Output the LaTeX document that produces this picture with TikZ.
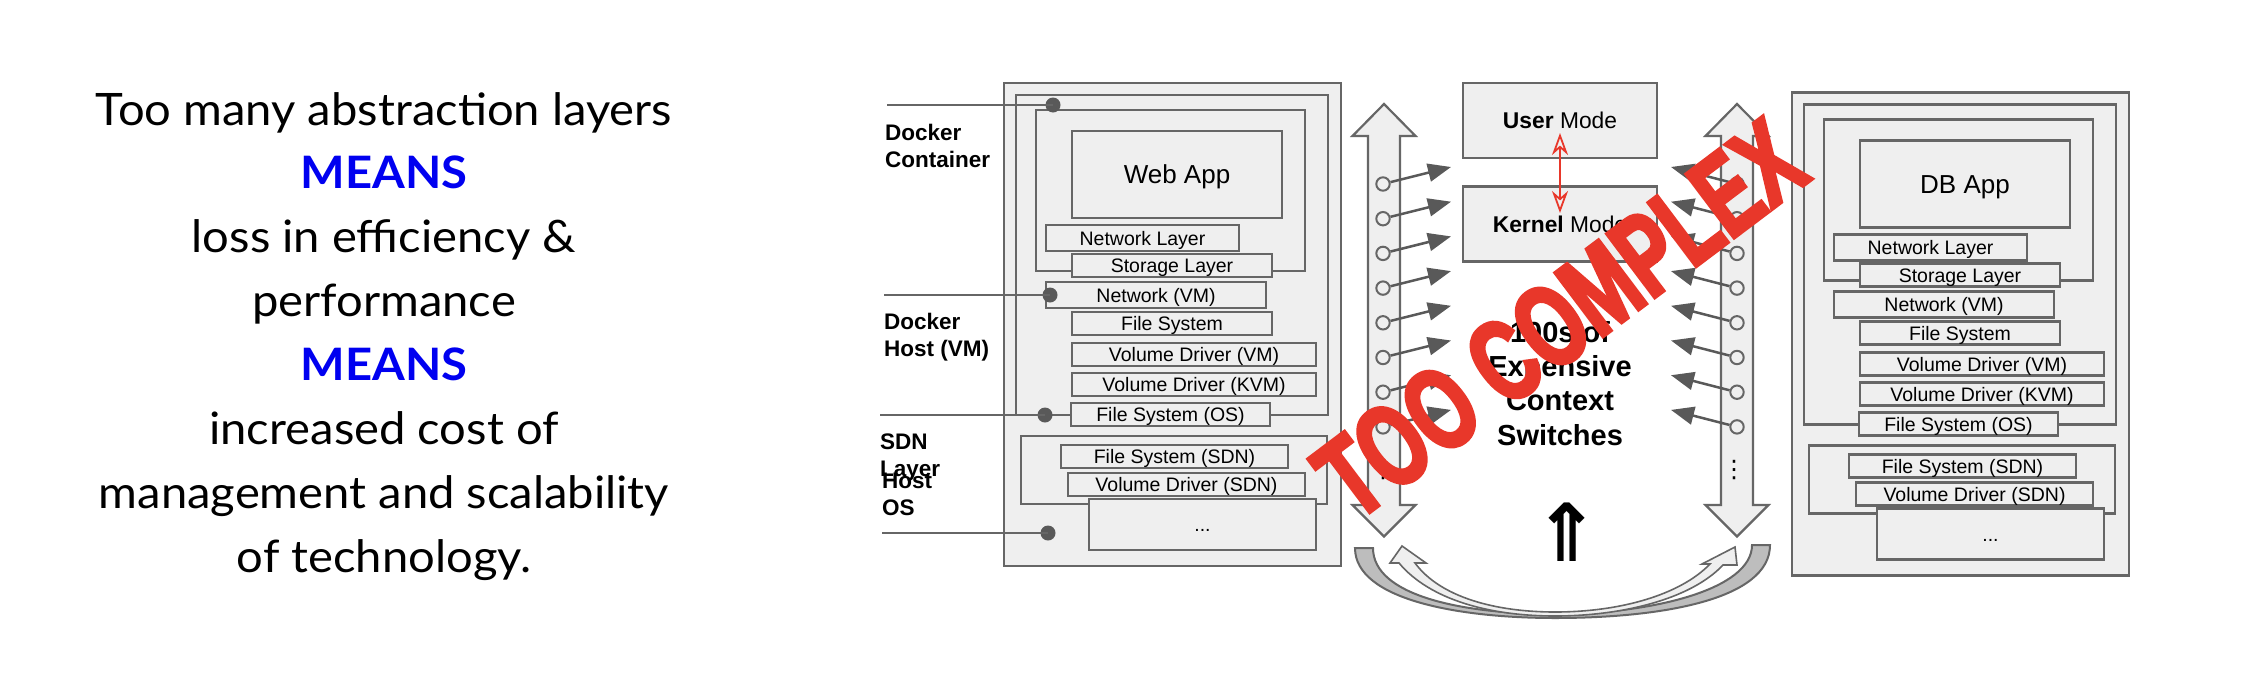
\documentclass[tikz,border=0pt]{standalone}
\usepackage{fontspec}
\setmainfont{Liberation Sans}
\newfontfamily\leadfont{Lato}[FakeStretch=1.055]
\newfontfamily\stampfont{Liberation Sans Bold}[FakeStretch=0.67,FakeBold=3]
\newfontfamily\symfont{DejaVu Sans}
\usetikzlibrary{arrows.meta}

\definecolor{linegray}{HTML}{666666}
\definecolor{panelfill}{HTML}{EFEFEF}
\definecolor{arrowgray}{HTML}{595959}
\definecolor{crescent}{HTML}{BDBDBD}
\definecolor{stampred}{HTML}{E8372A}
\definecolor{meansblue}{HTML}{0000F0}

% one host stack: outer boxes first, inner layers on top
\newcommand\hoststack[1]{%
    \node[layer, minimum width=337, minimum height=483] (host)  at (1172.5,324.5) {};
    \node[layer, minimum width=312, minimum height=320] (vm)    at (1172,255) {};
    \node[layer, minimum width=269, minimum height=161] (ctr)   at (1170.5,190.5) {};
    \node[layer, appfont, minimum width=210, minimum height=87] (app) at (1177,174.5) {#1};
    \node[layer, minimum width=193, minimum height=26] (netl)  at (1142.5,238) {Network Layer};
    \node[layer, minimum width=200, minimum height=23] (stl)   at (1172,265.5) {Storage Layer};
    \node[layer, minimum width=220, minimum height=26] (netvm) at (1156,295) {Network (VM)};
    \node[layer, minimum width=200, minimum height=23] (fs)    at (1172,323.5) {File System};
    \node[layer, minimum width=244, minimum height=23] (vdvm)  at (1194,354.5) {Volume Driver (VM)};
    \node[layer, minimum width=244, minimum height=23] (vdkvm) at (1194,384.5) {Volume Driver (KVM)};
    \node[layer, minimum width=199, minimum height=23] (fsos)  at (1170.5,414.5) {File System (OS)};
    \node[layer, minimum width=306, minimum height=68] (sdn)   at (1174,470) {};
    \node[layer, minimum width=227, minimum height=23] (fssdn) at (1174.5,456.5) {File System (SDN)};
    \node[layer, minimum width=237, minimum height=23] (vdsdn) at (1186.5,484.5) {Volume Driver (SDN)};
    \node[layer, minimum width=227, minimum height=51] (more)  at (1202.5,524.5) {...};
}

\begin{document}
\begin{tikzpicture}[
    x=1pt, y=-1pt,
    layer/.style={
        draw=linegray,
        fill=panelfill,
        line width=2.2pt,
        inner sep=0pt,
        font=\fontsize{19.5}{22}\selectfont,
        text height=14pt,
        text depth=0pt
    },
    appfont/.style={font=\fontsize{26}{30}\selectfont, text height=18.6pt},
    modebox/.style={layer, font=\fontsize{22.8}{26}\selectfont, text height=16.3pt,
        minimum width=194, minimum height=75},
    sidelabel/.style={font=\bfseries\fontsize{22.5}{27}\selectfont, align=left, inner sep=0pt},
    lead/.style={font=\leadfont\fontsize{44.7}{50}\selectfont, inner sep=0pt, anchor=base},
    dot/.style={circle, fill=arrowgray, minimum size=15, inner sep=0pt},
    connector/.style={draw=linegray, line width=2.5pt},
    port/.style={circle, draw=linegray, fill=panelfill, line width=2pt, minimum size=13.4, inner sep=0pt},
    callarr/.style={-{Triangle[length=23pt,width=18pt]}, draw=arrowgray, line width=2.5pt},
    bigarrow/.style={draw=linegray, fill=panelfill, line width=2.2pt, line join=miter},
    modearr/.style={{Stealth[open,length=22pt,width=16pt,inset=7pt]}-{Stealth[open,length=22pt,width=16pt,inset=7pt]},
        draw=stampred, line width=1.8pt}
]
    \useasboundingbox (0,0) rectangle (2260,686);
    \fill[white] (0,0) rectangle (2260,686);

    % left statement
    \foreach \t [count=\i from 0] in {Too many abstraction layers, {\bfseries\color{meansblue}MEANS},
        loss in efficiency \&, performance, {\bfseries\color{meansblue}MEANS}, increased cost of,
        management and scalability, of technology.}
        \node[lead] (lead\i) at (384,125+63.9*\i) {\t};

    % host stacks
    \hoststack{Web App}
    \begin{scope}[shift={(788,9.5)}, name prefix=db-]
        \hoststack{DB App}
    \end{scope}

    % layer labels and their leaders (base = last line)
    \node[sidelabel, anchor=base west] (lbl-ctr)  at (885,167) {Docker\\Container};
    \node[sidelabel, anchor=base west] (lbl-vm)   at (884,356) {Docker\\Host (VM)};
    \node[sidelabel, anchor=base west] (lbl-sdn)  at (880,476) {SDN\\Layer};
    \node[sidelabel, anchor=base west] (lbl-os)   at (882,515) {Host\\OS};

    \coordinate (cl1) at (887,105);  \node[dot] (d1) at (1053,105) {};
    \coordinate (cl2) at (884,295);  \node[dot] (d2) at (1050,295) {};
    \coordinate (cl3) at (880,415);  \node[dot] (d3) at (1045,415) {};
    \coordinate (cl4) at (882,533);  \node[dot] (d4) at (1048,533) {};
    \foreach \k in {1,...,4}
        \draw[connector] (cl\k) -- (d\k.center);

    % system call columns
    \foreach \cx in {1384,1737}
        \draw[bigarrow] (\cx,104) -- (\cx+31.5,136) -- (\cx+16,136) -- (\cx+16,505)
            -- (\cx+31.5,505) -- (\cx,536.5) -- (\cx-31.5,505) -- (\cx-16,505)
            -- (\cx-16,136) -- (\cx-31.5,136) -- cycle;

    \foreach \i in {0,...,7} {
        \pgfmathsetmacro\py{184+34.7*\i}
        \node[port] (lp\i) at (1383,\py) {};
        \node[port] (rp\i) at (1737,\py) {};
        \coordinate (lt\i) at (1451,\py-17);
        \coordinate (rt\i) at (1671,\py-17);
        \draw[callarr] (lp\i) -- (lt\i);
        \draw[callarr] (rp\i) -- (rt\i);
    }
    \node[font=\symfont\fontsize{24}{24}\selectfont, inner sep=0pt] (ldots) at (1383,470) {⋮};
    \node[font=\symfont\fontsize{24}{24}\selectfont, inner sep=0pt] (rdots) at (1734,470) {⋮};

    % user / kernel mode
    \node[modebox] (um) at (1560,120.5) {\textbf{User} Mode};
    \node[modebox] (km) at (1560,224) {\textbf{Kernel} Mode};
    \draw[modearr] ([yshift=-12.5pt]um.center) -- ([yshift=11pt]km.center);

    \node[font=\bfseries\fontsize{29}{34.3}\selectfont, align=center, anchor=base] (cs)
        at (1560,445) {100s of\\Expensive\\Context\\Switches};
    \node[font=\symfont\bfseries\fontsize{80}{80}\selectfont, inner sep=0pt] (uparr) at (1567,532.5) {⇑};

    % loop at the bottom
    \draw[draw=linegray, fill=crescent, line width=2pt]
        (1355,548) .. controls (1355,600) and (1460,618) .. (1555,618)
        .. controls (1660,618) and (1770,600) .. (1770,545)
        -- (1752,545) .. controls (1752,590) and (1650,614) .. (1555,614)
        .. controls (1460,614) and (1373,595) .. (1373,548) -- cycle;
    \draw[draw=linegray, fill=panelfill, line width=1.6pt, line join=miter]
        (1402,546) -- (1390,563) -- (1399,563)
        .. controls (1430,600) and (1490,616) .. (1555,616)
        .. controls (1620,616) and (1690,600) .. (1723,565)
        -- (1737,565) -- (1735,547) -- (1702,564) -- (1710,564)
        .. controls (1680,595) and (1620,612) .. (1555,612)
        .. controls (1495,612) and (1440,597) .. (1415,563)
        -- (1426,563) -- cycle;

    % stamp
    \node[font=\stampfont\fontsize{116}{116}\selectfont, text=stampred, rotate=37, inner sep=0pt]
        (stamp) at (1560,319) {TOO COMPLEX};
\end{tikzpicture}
\end{document}
